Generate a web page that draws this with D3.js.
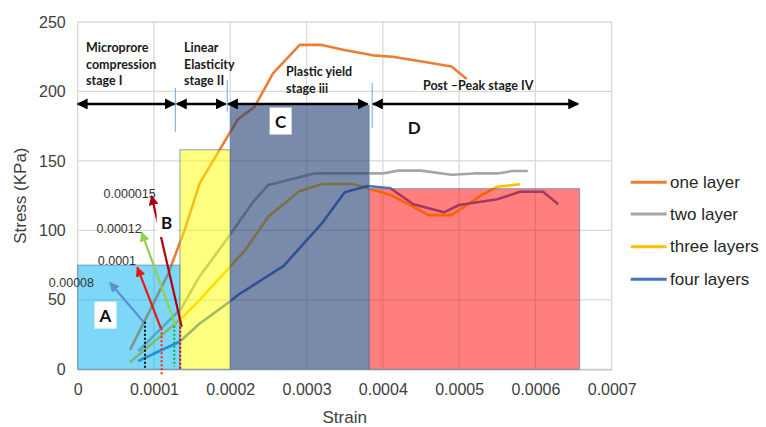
<!DOCTYPE html>
<html><head><meta charset="utf-8">
<script src="https://cdn.jsdelivr.net/npm/d3@7"></script>
<style>body{margin:0;background:#fff}svg{display:block}</style>
</head><body>
<svg id="c" width="766" height="427"></svg>
<script>
// ---- data ----
const xTicks = [0, 0.0001, 0.0002, 0.0003, 0.0004, 0.0005, 0.0006, 0.0007];
const xTickLabels = ["0", "0.0001", "0.0002", "0.0003", "0.0004", "0.0005", "0.0006", "0.0007"];
const yTicks = [0, 50, 100, 150, 200, 250];

const seriesNames = ["one layer", "two layer", "three layers", "four layers"];

const oneLayerStrain = [0.0000686, 0.000118, 0.00014, 0.00016, 0.000186, 0.00021, 0.000232, 0.000256, 0.000291, 0.00032, 0.000348, 0.000387, 0.000413, 0.000457, 0.00049, 0.00051];
const oneLayerStress = [14, 68, 100, 134, 158, 180, 189, 213, 233.5, 233.5, 230, 226, 225, 221, 218, 209];

const twoLayerStrain = [0.0000794, 0.000136, 0.00016, 0.0002, 0.00023, 0.00025, 0.00031, 0.00038, 0.0004, 0.00042, 0.00045, 0.00049, 0.00052, 0.00055, 0.00057, 0.00059];
const twoLayerStress = [13, 44, 67, 97, 120.6, 132.7, 141, 141, 141, 143, 143, 140, 141, 141, 142.7, 142.7];

const threeLayerStrain = [0.0000686, 0.000136, 0.00016, 0.0002, 0.00022, 0.00025, 0.00029, 0.00032, 0.00036, 0.00038, 0.00041, 0.00044, 0.00046, 0.00049, 0.0005, 0.00053, 0.00055, 0.00058];
const threeLayerStress = [5, 36.7, 50, 74, 86, 110, 128, 133.4, 133.4, 130.3, 125.5, 117, 111, 111, 114.7, 125.5, 131.4, 133.2];

const fourLayerStrain = [0.0000794, 0.000134, 0.00016, 0.0002, 0.00021, 0.00027, 0.00032, 0.00035, 0.00038, 0.00041, 0.00044, 0.00048, 0.0005, 0.00055, 0.00058, 0.00061, 0.00063];
const fourLayerStress = [6, 20, 33, 49, 53.5, 74.4, 105, 127.4, 132, 130.3, 118.8, 113, 118.3, 122.4, 127.8, 127.8, 118.8];

// stage regions (rectangles)
const regionLabels = ["A", "B", "C", "D"];
const regionStart = [0, 0.000134, 0.0002, 0.000382];
const regionEnd = [0.000134, 0.0002, 0.000382, 0.000658];
const regionTop = [75, 158, 190, 130];

// stage arrows
const stageStart = [0, 0.00013, 0.000197, 0.000387];
const stageEnd = [0.000127, 0.000194, 0.00038, 0.000656];
const stageArrowStress = 191;
const stageTexts = [["Microprore", "compression", "stage I"], ["Linear", "Elasticity", "stage II"], ["Plastic yield", "stage iii"], ["Post \u2013Peak stage IV"]];
const separatorStrain = [0.000128, 0.000196, 0.000386];

// strain-rate arrows
const rateLabels = ["0.00008", "0.0001", "0.00012", "0.000015"];
const rateBaseStrain = [0.0000860, 0.0001091, 0.0001284, 0.0001363];
const rateBaseStress = [34.3, 29.5, 31.4, 30.7];
const rateTipStrain = [0.0000423, 0.0000781, 0.0000838, 0.0000969];
const rateTipStress = [62.3, 73.4, 98.6, 124.7];
const rateDropStrain = [0.0000882, 0.00011, 0.0001266, 0.0001344];
const rateDropEnd = [0, -5, 2, 0];

// ---- drawing ----
const svg = d3.select("#c");
const x = d3.scaleLinear().domain([0, 0.0007]).range([77.7, 611.7]);
const y = d3.scaleLinear().domain([0, 250]).range([369.3, 22]);
const colors = ["#ed7d31", "#a5a5a5", "#ffc000", "#4472c4"];
const regionFill = ["#00b0f0", "#ffff00", "#213c73", "#ff0000"];
const regionOpacity = [0.5, 0.5, 0.6, 0.5];
const rateColors = ["#5b8fd0", "#e81818", "#92d050", "#b00010"];
const dropColors = ["#111", "#ff2020", "#00b050", "#c00040"];

const defs = svg.append("defs");
function marker(id, color, size) {
  defs.append("marker").attr("id", id).attr("viewBox", "0 0 10 10")
    .attr("refX", 9).attr("refY", 5).attr("markerWidth", size).attr("markerHeight", size)
    .attr("orient", "auto-start-reverse").attr("markerUnits", "userSpaceOnUse")
    .append("path").attr("d", "M0,0 L10,5 L0,10 z").attr("fill", color);
}
marker("mBlack", "#000", 11);
rateColors.forEach((c, i) => marker("mRate" + i, c, 10));

// gridlines
const grid = svg.append("g");
grid.selectAll("line.h").data(yTicks).join("line")
  .attr("x1", x(0)).attr("x2", x(0.0007)).attr("y1", d => y(d)).attr("y2", d => y(d))
  .attr("stroke", "#d9d9d9").attr("stroke-width", 1.3);
grid.selectAll("line.v").data(xTicks).join("line")
  .attr("y1", y(0)).attr("y2", y(250)).attr("x1", d => x(d)).attr("x2", d => x(d))
  .attr("stroke", "#d9d9d9").attr("stroke-width", 1.3);

// axes labels via d3 axes
const xAxis = d3.axisBottom(x).tickValues(xTicks).tickFormat((d, i) => xTickLabels[i]).tickSize(0).tickPadding(14);
const gx = svg.append("g").attr("transform", `translate(0,${y(0)})`).call(xAxis);
gx.select(".domain").attr("stroke", "#bfbfbf").attr("stroke-width", 1.3);
gx.selectAll("text").attr("font-family", "Liberation Sans, Arial, sans-serif").attr("font-size", 16).attr("fill", "#404040");

const yAxis = d3.axisLeft(y).tickValues(yTicks).tickSize(0).tickPadding(12);
const gy = svg.append("g").attr("transform", `translate(${x(0)},0)`).call(yAxis);
gy.select(".domain").remove();
gy.selectAll("text").attr("font-family", "Liberation Sans, Arial, sans-serif").attr("font-size", 16).attr("fill", "#404040");

svg.append("text").attr("transform", `translate(22,${(y(0) + y(250)) / 2}) rotate(-90)`)
  .attr("text-anchor", "middle").attr("dominant-baseline", "middle")
  .attr("font-family", "Liberation Sans, Arial, sans-serif").attr("font-size", 17).attr("fill", "#404040")
  .text("Stress (KPa)");
svg.append("text").attr("x", (x(0) + x(0.0007)) / 2).attr("y", 423).attr("text-anchor", "middle")
  .attr("font-family", "Liberation Sans, Arial, sans-serif").attr("font-size", 17).attr("fill", "#404040")
  .text("Strain");

// series lines
const seriesStrain = [oneLayerStrain, twoLayerStrain, threeLayerStrain, fourLayerStrain];
const seriesStress = [oneLayerStress, twoLayerStress, threeLayerStress, fourLayerStress];
const line = d3.line().x(d => x(d[0])).y(d => y(d[1]));
const lines = svg.append("g");
seriesNames.forEach((n, i) => {
  const pts = seriesStrain[i].map((s, j) => [s, seriesStress[i][j]]);
  lines.append("path").attr("d", line(pts)).attr("fill", "none")
    .attr("stroke", colors[i]).attr("stroke-width", 2.6).attr("stroke-linejoin", "round");
});

// regions overlay
const regs = svg.append("g");
regionLabels.forEach((l, i) => {
  regs.append("rect").attr("x", x(regionStart[i])).attr("y", y(regionTop[i]))
    .attr("width", x(regionEnd[i]) - x(regionStart[i])).attr("height", y(0) - y(regionTop[i]))
    .attr("fill", regionFill[i]).attr("fill-opacity", regionOpacity[i])
    .attr("stroke", "#5a7fa8").attr("stroke-opacity", 0.7).attr("stroke-width", 1);
});

// stage separators
svg.selectAll("line.sep").data(separatorStrain).join("line")
  .attr("x1", d => x(d)).attr("x2", d => x(d))
  .attr("y1", (d, i) => [88, 80, 83][i]).attr("y2", (d, i) => [132, 112, 128][i])
  .attr("stroke", "#6fa8dc").attr("stroke-width", 1);

// stage arrows
stageStart.forEach((s, i) => {
  svg.append("line").attr("x1", x(s)).attr("x2", x(stageEnd[i]))
    .attr("y1", y(stageArrowStress)).attr("y2", y(stageArrowStress))
    .attr("stroke", "#000").attr("stroke-width", 2.4)
    .attr("marker-start", "url(#mBlack)").attr("marker-end", "url(#mBlack)");
});

// stage texts
const stageTextPos = [[86, 52], [184, 52], [286, 76], [423, 90]];
stageTexts.forEach((lines_, i) => {
  const t = svg.append("text").attr("x", stageTextPos[i][0]).attr("y", stageTextPos[i][1])
    .attr("font-family", "Lato, Open Sans, sans-serif").attr("font-weight", "bold")
    .attr("font-size", 12.5).attr("fill", "#1a1a1a");
  lines_.forEach((ln, k) => t.append("tspan").attr("x", stageTextPos[i][0]).attr("dy", k === 0 ? 0 : 16.5).text(ln));
});

// region labels
const regionLabelStrain = [0.0000364, 0.0001166, 0.000266, 0.000441];
const regionLabelStress = [39, 106, 178.7, 173.7];
regionLabels.forEach((l, i) => {
  const cx = x(regionLabelStrain[i]), cy = y(regionLabelStress[i]);
  if (i !== 3) {
    const w = i === 1 ? 20 : 22, h = i === 1 ? 30 : 27;
    svg.append("rect").attr("x", cx - w / 2).attr("y", cy - h / 2).attr("width", w).attr("height", h).attr("fill", "#fff");
  }
  svg.append("text").attr("x", cx).attr("y", cy).attr("text-anchor", "middle").attr("dominant-baseline", "central")
    .attr("font-family", "Lato, Open Sans, sans-serif").attr("font-weight", "bold").attr("font-size", 17).attr("fill", "#111")
    .text(l);
});

// strain-rate arrows & dotted drops
rateLabels.forEach((l, i) => {
  svg.append("line").attr("x1", x(rateDropStrain[i])).attr("x2", x(rateDropStrain[i]))
    .attr("y1", y(rateBaseStress[i])).attr("y2", y(rateDropEnd[i]))
    .attr("stroke", dropColors[i]).attr("stroke-width", 2).attr("stroke-dasharray", "2,2");
});
rateLabels.forEach((l, i) => {
  svg.append("line").attr("x1", x(rateBaseStrain[i])).attr("y1", y(rateBaseStress[i]))
    .attr("x2", x(rateTipStrain[i])).attr("y2", y(rateTipStress[i]))
    .attr("stroke", rateColors[i]).attr("stroke-width", 2.2).attr("marker-end", `url(#mRate${i})`);
});
// B box covers part of dark red arrow: redraw B box on top
{
  const cx = x(regionLabelStrain[1]), cy = y(regionLabelStress[1]);
  svg.append("rect").attr("x", cx - 10).attr("y", cy - 15).attr("width", 20).attr("height", 30).attr("fill", "#fff");
  svg.append("text").attr("x", cx).attr("y", cy).attr("text-anchor", "middle").attr("dominant-baseline", "central")
    .attr("font-family", "Lato, Open Sans, sans-serif").attr("font-weight", "bold").attr("font-size", 17).attr("fill", "#111")
    .text(regionLabels[1]);
}
const rateLabelPos = [[94, 287], [136, 265], [141.7, 233], [155.7, 198]];
rateLabels.forEach((l, i) => {
  svg.append("text").attr("x", rateLabelPos[i][0]).attr("y", rateLabelPos[i][1]).attr("text-anchor", "end")
    .attr("font-family", "Liberation Sans, Arial, sans-serif").attr("font-size", 12.5).attr("fill", "#333")
    .text(l);
});

// legend
const legendY = [182.3, 214, 246.7, 279.3];
seriesNames.forEach((n, i) => {
  svg.append("line").attr("x1", 630.7).attr("x2", 666.7).attr("y1", legendY[i]).attr("y2", legendY[i])
    .attr("stroke", colors[i]).attr("stroke-width", 3);
  svg.append("text").attr("x", 670).attr("y", legendY[i]).attr("dominant-baseline", "central")
    .attr("font-family", "Liberation Sans, Arial, sans-serif").attr("font-size", 17).attr("fill", "#262626")
    .text(n);
});
</script>
</body></html>
